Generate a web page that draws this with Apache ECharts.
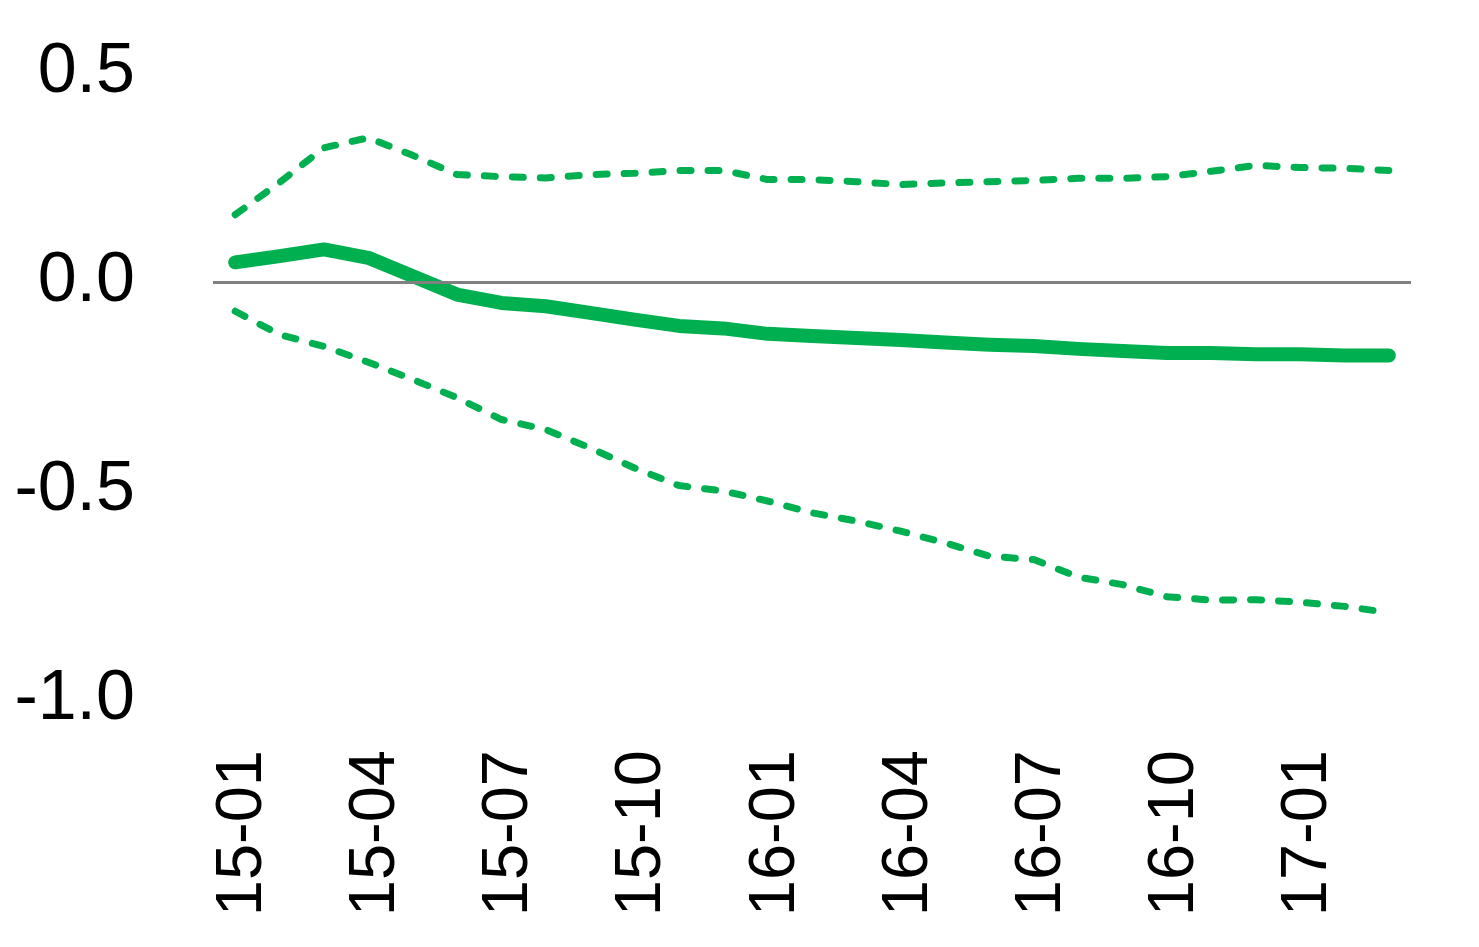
<!DOCTYPE html>
<html>
<head>
<meta charset="utf-8">
<script src="https://cdn.jsdelivr.net/npm/echarts@6/dist/echarts.min.js"></script>
<style>
html,body{margin:0;padding:0;background:#fff;}
#chart{width:1479px;height:947px;}
</style>
</head>
<body>
<div id="chart"></div>
<script>
const categories = ['15-01','15-02','15-03','15-04','15-05','15-06','15-07','15-08','15-09','15-10','15-11','15-12',
  '16-01','16-02','16-03','16-04','16-05','16-06','16-07','16-08','16-09','16-10','16-11','16-12',
  '17-01','17-02','17-03'];
const central = [0.047,0.062,0.078,0.058,0.014,-0.030,-0.050,-0.058,-0.074,-0.090,-0.105,-0.111,
  -0.124,-0.129,-0.134,-0.139,-0.145,-0.150,-0.153,-0.160,-0.165,-0.170,-0.170,-0.173,
  -0.173,-0.176,-0.176];
const upper = [0.161,0.238,0.321,0.345,0.303,0.257,0.252,0.249,0.257,0.260,0.267,0.267,
  0.245,0.245,0.240,0.233,0.237,0.240,0.243,0.248,0.248,0.252,0.265,0.279,
  0.274,0.272,0.267];
const lower = [-0.070,-0.126,-0.154,-0.192,-0.233,-0.277,-0.329,-0.353,-0.397,-0.445,-0.487,-0.500,
  -0.524,-0.552,-0.572,-0.596,-0.624,-0.656,-0.664,-0.706,-0.724,-0.753,-0.761,-0.760,
  -0.766,-0.776,-0.791];
const yTicks = {min: -1.0, max: 0.5, step: 0.5};

const GREEN = '#00B050';
const FONT = 'Liberation Sans';
const chart = echarts.init(document.getElementById('chart'), null, {renderer: 'canvas'});
const dashStyle = {color: GREEN, width: 7, type: [11, 17], cap: 'round', join: 'round'};
chart.setOption({
  animation: false,
  backgroundColor: '#fff',
  grid: {left: 213, right: 68, top: 73, bottom: 247, containLabel: false},
  xAxis: {
    type: 'category',
    data: categories,
    boundaryGap: true,
    axisLine: {show: false},
    axisTick: {show: false},
    axisLabel: {
      interval: 2, rotate: 90, margin: 50,
      fontFamily: FONT, fontSize: 65, color: '#000',
      formatter: v => '{a|' + v + '}',
      rich: {a: {fontFamily: FONT, fontSize: 65, color: '#000', padding: [16, 0, 0, 0]}}
    },
    splitLine: {show: false}
  },
  yAxis: {
    type: 'value',
    min: yTicks.min, max: yTicks.max, interval: yTicks.step,
    axisLine: {show: false},
    axisTick: {show: false},
    splitLine: {show: false},
    axisLabel: {
      margin: 78, fontFamily: FONT, fontSize: 70, color: '#000',
      formatter: v => v.toFixed(1)
    }
  },
  series: [
    {
      name: 'zero', type: 'line', data: [], silent: true,
      markLine: {
        silent: true, symbol: ['none','none'], label: {show: false},
        lineStyle: {color: '#808080', width: 3, type: 'solid'},
        data: [{yAxis: 0}]
      }
    },
    {name: 'upper', type: 'line', data: upper, showSymbol: false, symbol: 'none', lineStyle: dashStyle},
    {name: 'lower', type: 'line', data: lower, showSymbol: false, symbol: 'none', lineStyle: dashStyle},
    {name: 'central', type: 'line', data: central, showSymbol: false, symbol: 'none',
      lineStyle: {color: GREEN, width: 14, cap: 'round', join: 'round'}}
  ]
});
</script>
</body>
</html>
